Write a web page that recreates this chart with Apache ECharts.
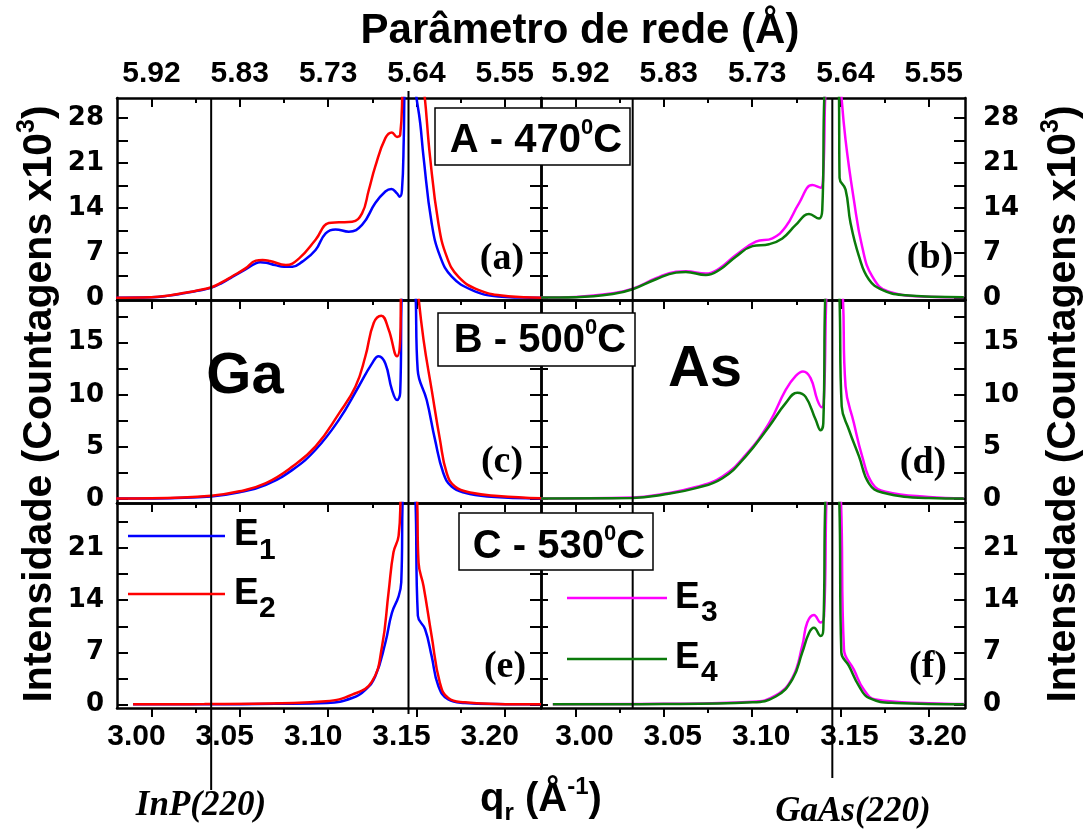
<!DOCTYPE html>
<html>
<head>
<meta charset="utf-8">
<script src="https://cdn.jsdelivr.net/npm/echarts@6/dist/echarts.min.js"></script>
<style>
  html, body { margin: 0; padding: 0; background: #ffffff; }
  #chart { width: 1086px; height: 837px; }
</style>
</head>
<body>
<div id="chart"></div>
<script>
// ---------- scattering vector q_r (Å^-1) and intensity (counts x10^3) ----------
// Row A, 470 °C
const qA_E1 = [2.980, 3.000, 3.010, 3.018, 3.026, 3.034, 3.040, 3.046, 3.053, 3.059, 3.0615, 3.065, 3.070, 3.0751, 3.0798, 3.0854, 3.0929, 3.0986, 3.1042, 3.1117, 3.1192, 3.1267, 3.1324, 3.1358, 3.1390, 3.1405, 3.1418, 3.1428, 3.1433, 3.1455, 3.1493, 3.1521, 3.1540, 3.1586, 3.1634, 3.1700, 3.1812, 3.1962, 3.2100, 3.2205];
const iA_E1 = [0.08, 0.14, 0.40, 0.76, 1.15, 1.64, 2.4, 3.35, 4.45, 5.42, 5.6, 5.5, 5.15, 4.9, 4.9, 5.69, 7.5, 10.1, 10.7, 10.35, 11.4, 14.8, 16.6, 17.0, 16.3, 15.8, 16.8, 24.6, 33, 50, 33, 27.3, 22.0, 11.7, 6.5, 3.35, 1.3, 0.25, 0.1, 0.06];
const qA_E2 = [2.980, 3.000, 3.010, 3.018, 3.026, 3.034, 3.040, 3.046, 3.053, 3.0591, 3.0629, 3.067, 3.0761, 3.0836, 3.0929, 3.1004, 3.1061, 3.1136, 3.1192, 3.1230, 3.1267, 3.1324, 3.1361, 3.1390, 3.1408, 3.1422, 3.1455, 3.1540, 3.1577, 3.1624, 3.1671, 3.1737, 3.1850, 3.2019, 3.2205];
const iA_E2 = [0.08, 0.15, 0.42, 0.80, 1.2, 1.7, 2.5, 3.45, 4.6, 5.84, 5.95, 5.8, 5.17, 6.2, 9.1, 11.7, 11.8, 11.9, 13.2, 16.8, 20.5, 24.9, 25.8, 25.1, 25.4, 33, 50, 33, 22.0, 11.7, 6.5, 3.35, 1.3, 0.3, 0.08];
const qA_E3 = [2.9806, 3.0004, 3.0211, 3.0324, 3.0456, 3.0569, 3.0625, 3.0738, 3.0814, 3.0908, 3.1021, 3.1115, 3.1190, 3.1266, 3.1341, 3.1388, 3.1403, 3.1416, 3.1454, 3.1501, 3.1529, 3.1576, 3.1623, 3.1680, 3.1774, 3.2000, 3.2198];
const iA_E3 = [0.1, 0.2, 0.76, 1.48, 3.1, 4.12, 4.2, 3.84, 4.62, 6.72, 8.8, 9.32, 11.1, 14.8, 17.6, 17.2, 19.5, 33, 50, 33, 24.6, 15.3, 8.0, 3.4, 1.0, 0.24, 0.15];
const qA_E4 = [2.9806, 3.0004, 3.0211, 3.0324, 3.0456, 3.0569, 3.0625, 3.0738, 3.0814, 3.0908, 3.1002, 3.1096, 3.1171, 3.1247, 3.1322, 3.1379, 3.1397, 3.1411, 3.1454, 3.1491, 3.1495, 3.1529, 3.1557, 3.1605, 3.1661, 3.1736, 3.1849, 3.2198];
const iA_E4 = [0.1, 0.16, 0.66, 1.39, 2.95, 3.98, 4.08, 3.6, 4.38, 6.45, 8.1, 8.4, 9.3, 11.4, 13.1, 12.4, 13.7, 33, 50, 33, 18.7, 16.9, 11.7, 6.5, 2.9, 1.3, 0.5, 0.15];

// Row B, 500 °C
const qB_E1 = [2.980, 3.000, 3.0338, 3.0498, 3.0648, 3.0798, 3.0929, 3.1061, 3.1173, 3.1248, 3.1286, 3.1324, 3.1361, 3.1390, 3.1408, 3.1418, 3.1455, 3.1493, 3.1507, 3.1558, 3.1605, 3.1652, 3.1699, 3.1774, 3.1900, 3.2205];
const iB_E1 = [0.05, 0.06, 0.25, 0.64, 1.37, 2.8, 4.73, 7.6, 10.8, 13.0, 13.7, 13.0, 10.5, 9.5, 10.2, 20.5, 30, 20.5, 12.4, 9.5, 5.7, 2.5, 1.2, 0.6, 0.25, 0.05];
const qB_E2 = [2.980, 3.000, 3.0338, 3.0498, 3.0648, 3.0798, 3.0929, 3.1061, 3.1155, 3.1211, 3.1258, 3.1301, 3.1342, 3.1390, 3.1408, 3.1414, 3.1455, 3.1505, 3.1540, 3.1586, 3.1633, 3.1671, 3.1718, 3.1812, 3.1962, 3.2205];
const iB_E2 = [0.05, 0.07, 0.32, 0.74, 1.53, 3.12, 5.05, 8.2, 10.8, 13.7, 16.9, 17.6, 16.3, 13.7, 15.3, 20.5, 30, 20.5, 15.3, 10.5, 5.7, 2.5, 1.2, 0.6, 0.3, 0.07];
const qB_E3 = [2.9806, 3.0324, 3.0493, 3.0682, 3.0832, 3.0964, 3.1096, 3.1190, 3.1247, 3.1288, 3.1331, 3.1369, 3.1394, 3.1407, 3.1422, 3.1454, 3.1510, 3.1529, 3.1576, 3.1623, 3.1680, 3.1755, 3.2000, 3.2198];
const iB_E3 = [0.05, 0.15, 0.48, 1.15, 2.17, 4.25, 7.28, 10.48, 11.82, 12.24, 11.6, 9.52, 8.8, 9.8, 20.5, 30, 20.5, 10.8, 7.3, 4.1, 1.5, 0.7, 0.2, 0.08];
const qB_E4 = [2.9806, 3.0324, 3.0493, 3.0682, 3.0832, 3.0964, 3.1096, 3.1190, 3.1256, 3.1303, 3.1360, 3.1388, 3.1403, 3.1416, 3.1454, 3.1492, 3.1507, 3.1548, 3.1605, 3.1661, 3.1736, 3.2000, 3.2198];
const iB_E4 = [0.05, 0.1, 0.41, 1.05, 2.0, 4.1, 6.97, 9.2, 10.2, 9.8, 7.6, 6.6, 7.3, 20.5, 30, 20.5, 8.9, 6.65, 4.1, 1.5, 0.63, 0.1, 0.05];

// Row C, 530 °C
const qC_E1 = [2.9896, 3.030, 3.070, 3.0995, 3.1136, 3.1211, 3.1267, 3.1324, 3.1361, 3.1399, 3.1414, 3.1423, 3.1455, 3.1493, 3.1508, 3.1549, 3.1586, 3.1624, 3.1680, 3.1774, 3.1950, 3.2205];
const iC_E1 = [0.05, 0.06, 0.12, 0.22, 0.9, 2.0, 3.8, 8.3, 12.3, 14.5, 16.4, 28.5, 45, 28.5, 11.9, 10.1, 6.5, 2.5, 0.7, 0.24, 0.08, 0.05];
const qC_E2 = [2.9896, 3.030, 3.0736, 3.0986, 3.1136, 3.1248, 3.1305, 3.1342, 3.1370, 3.1399, 3.1412, 3.1455, 3.1502, 3.1512, 3.1540, 3.1586, 3.1633, 3.1680, 3.1774, 3.1950, 3.2205];
const iC_E2 = [0.05, 0.08, 0.2, 0.45, 1.34, 3.1, 7.8, 15.0, 20.4, 22.6, 28.5, 45, 28.5, 19.0, 15.9, 9.2, 2.9, 0.9, 0.32, 0.1, 0.05];
const qC_E3 = [2.9872, 3.050, 3.1002, 3.1134, 3.1228, 3.1284, 3.1312, 3.1350, 3.1388, 3.1407, 3.1422, 3.1454, 3.1501, 3.1520, 3.1576, 3.1633, 3.1699, 3.2000, 3.2198];
const iC_E3 = [0.05, 0.12, 0.4, 1.25, 3.6, 7.9, 11.0, 12.0, 11.0, 11.8, 28.5, 45, 28.5, 7.4, 4.7, 2.0, 0.7, 0.2, 0.1];
const qC_E4 = [2.9872, 3.050, 3.1002, 3.1134, 3.1228, 3.1284, 3.1322, 3.1350, 3.1388, 3.1403, 3.1416, 3.1454, 3.1492, 3.1505, 3.1548, 3.1605, 3.1661, 3.1812, 3.2198];
const iC_E4 = [0.05, 0.09, 0.32, 1.1, 3.4, 7.0, 9.6, 10.3, 9.2, 10.1, 28.5, 45, 28.5, 7.0, 5.2, 2.5, 0.9, 0.23, 0.05];

// Reference peak positions: InP(220) and GaAs(220)
const refLeft = [3.0338, 3.1455];
const refRight = [3.0324, 3.1454];

// Axis ticks and labels
const qTicks = [3.00, 3.05, 3.10, 3.15, 3.20];
const qMinorTicks = [3.025, 3.075, 3.125, 3.175];
const qTickText = ['3.00', '3.05', '3.10', '3.15', '3.20'];
const latticeTickText = ['5.92', '5.83', '5.73', '5.64', '5.55'];
const yTicksA = [0, 3.5, 7, 10.5, 14, 17.5, 21, 24.5, 28];
const yLabelsA = [0, 7, 14, 21, 28];
const yTicksB = [0, 2.5, 5, 7.5, 10, 12.5, 15, 17.5];
const yLabelsB = [0, 5, 10, 15];
const yTicksC = [0, 3.5, 7, 10.5, 14, 17.5, 21, 24.5];
const yLabelsC = [0, 7, 14, 21];
const yMin = [-0.28, -0.38, -0.44];
const yMax = [31.15, 19.1, 27.0];
const qMin = 2.9805, qMax = 3.2205;

// ---------- layout ----------
const colLeft = [117, 541], colWidth = 424;
const rowTop = [98, 300, 503], rowHeight = [202, 203, 205];
const SANS = 'Liberation Sans, Arial, sans-serif';
const SERIF = 'Liberation Serif, Times New Roman, serif';
const TICKFONT = 'DejaVu Sans, sans-serif';
const panels = [
  [[qA_E1, iA_E1, '#0000ff'], [qA_E2, iA_E2, '#ff0000']],
  [[qA_E3, iA_E3, '#ff00ff'], [qA_E4, iA_E4, '#0b7a0b']],
  [[qB_E1, iB_E1, '#0000ff'], [qB_E2, iB_E2, '#ff0000']],
  [[qB_E3, iB_E3, '#ff00ff'], [qB_E4, iB_E4, '#0b7a0b']],
  [[qC_E1, iC_E1, '#0000ff'], [qC_E2, iC_E2, '#ff0000']],
  [[qC_E3, iC_E3, '#ff00ff'], [qC_E4, iC_E4, '#0b7a0b']]
];
const yTicks = [yTicksA, yTicksB, yTicksC];
const yLabels = [yLabelsA, yLabelsB, yLabelsC];

const tickIndex = v => Math.round((v - 3.0) / 0.05);
const lineAxis = { show: true, onZero: false, lineStyle: { color: '#000', width: 2.5 } };
const tickStyle = { color: '#000', width: 2 };

const grids = [], xAxes = [], yAxes = [], series = [];
for (let r = 0; r < 3; r++) {
  for (let c = 0; c < 2; c++) {
    const g = r * 2 + c;
    grids.push({ left: colLeft[c], top: rowTop[r], width: colWidth, height: rowHeight[r],
                 containLabel: false, outerBoundsMode: 'none' });
    const base = { type: 'value', gridIndex: g, min: qMin, max: qMax, splitLine: { show: false } };
    // bottom axis, major ticks
    xAxes.push(Object.assign({}, base, {
      position: 'bottom', axisLine: lineAxis,
      axisTick: { show: true, inside: false, length: 9, customValues: qTicks, lineStyle: tickStyle },
      axisLabel: { show: r === 2, customValues: qTicks, formatter: v => qTickText[tickIndex(v)],
                   fontFamily: SANS, fontSize: 30, fontWeight: 'bold', color: '#000', margin: 14,
                   padding: c === 0 ? [0, 30, 0, 0] : [0, 0, 0, 18] }
    }));
    // bottom axis, minor ticks
    xAxes.push(Object.assign({}, base, {
      position: 'bottom', axisLine: { show: false, onZero: false },
      axisTick: { show: true, inside: false, length: 5, customValues: qMinorTicks, lineStyle: tickStyle },
      axisLabel: { show: false }
    }));
    // top axis (lattice parameter), major ticks
    xAxes.push(Object.assign({}, base, {
      position: 'top', axisLine: lineAxis,
      axisTick: { show: true, inside: true, length: 9, customValues: qTicks, lineStyle: tickStyle },
      axisLabel: { show: r === 0, customValues: qTicks, formatter: v => latticeTickText[tickIndex(v)],
                   fontFamily: SANS, fontSize: 30, fontWeight: 'bold', color: '#000', margin: 9,
                   padding: c === 1 ? [0, 0, 0, 10] : [0, 0, 0, 0] }
    }));
    // top axis, minor ticks
    xAxes.push(Object.assign({}, base, {
      position: 'top', axisLine: { show: false, onZero: false },
      axisTick: { show: true, inside: true, length: 5, customValues: qMinorTicks, lineStyle: tickStyle },
      axisLabel: { show: false }
    }));
    const ybase = { type: 'value', gridIndex: g, min: yMin[r], max: yMax[r], splitLine: { show: false } };
    yAxes.push(Object.assign({}, ybase, {
      position: 'left', axisLine: lineAxis,
      axisTick: { show: true, inside: true, length: c === 0 ? 11 : 7, customValues: yTicks[r], lineStyle: tickStyle },
      axisLabel: { show: c === 0, customValues: yLabels[r], fontFamily: TICKFONT,
                   fontSize: 26, fontWeight: 'bold', color: '#000', margin: 13 }
    }));
    yAxes.push(Object.assign({}, ybase, {
      position: 'right', axisLine: lineAxis,
      axisTick: { show: true, inside: true, length: 11, customValues: yTicks[r], lineStyle: tickStyle },
      axisLabel: { show: c === 1, customValues: yLabels[r], fontFamily: TICKFONT,
                   fontSize: 26, fontWeight: 'bold', color: '#000', margin: 18 }
    }));
    panels[g].forEach(([qs, is, color]) => {
      series.push({
        type: 'line', xAxisIndex: 4 * g, yAxisIndex: 2 * g,
        data: qs.map((q, k) => [q, is[k]]),
        showSymbol: false, symbol: 'none', clip: true,
        smooth: 0.45,
        lineStyle: { color: color, width: 2.5 }, itemStyle: { color: color },
        z: 3
      });
    });
  }
}

const chart = echarts.init(document.getElementById('chart'), null, { renderer: 'canvas' });
chart.setOption({
  animation: false,
  backgroundColor: '#ffffff',
  grid: grids, xAxis: xAxes, yAxis: yAxes, series: series
});

// ---------- annotations ----------
const px = (axisIdx, q) => chart.convertToPixel({ xAxisIndex: axisIdx }, q);
const xInPL = px(0, refLeft[0]), xGaAsL = px(0, refLeft[1]);
const xInPR = px(4, refRight[0]), xGaAsR = px(4, refRight[1]);

function vline(x, y1, y2) {
  return { type: 'line', z: 5, shape: { x1: x, y1: y1, x2: x, y2: y2 },
           style: { stroke: '#000', lineWidth: 2 } };
}
function hline(x1, x2, y, color) {
  return { type: 'line', z: 12, shape: { x1: x1, y1: y, x2: x2, y2: y },
           style: { stroke: color, lineWidth: 2.5 } };
}
function txt(x, y, text, font, extra) {
  return { type: 'text', z: 12, x: x, y: y,
    style: Object.assign({ text: text, font: font, fill: '#000',
      align: 'center', verticalAlign: 'middle' }, extra || {}) };
}
function box(x, y, w, h) {
  return { type: 'rect', z: 10, shape: { x: x, y: y, width: w, height: h },
           style: { fill: '#ffffff', stroke: '#000', lineWidth: 1.5 } };
}
function tempText(cx, cy, prefix) {
  return { type: 'text', z: 12, x: cx, y: cy, style: {
    text: '{b|' + prefix + '}{s|0}{b|C}', align: 'center', verticalAlign: 'middle',
    rich: {
      b: { fontFamily: SANS, fontSize: 40, fontWeight: 'bold', lineHeight: 48, verticalAlign: 'middle', color: '#000' },
      s: { fontFamily: SANS, fontSize: 22, fontWeight: 'bold', lineHeight: 22, verticalAlign: 'top', color: '#000' }
    } } };
}
function yName(cx, cy) {
  return { type: 'text', z: 12, x: cx, y: cy, rotation: Math.PI / 2, style: {
    text: '{b|Intensidade (Countagens x10}{s|3}{b|)}', align: 'center', verticalAlign: 'middle',
    rich: {
      b: { fontFamily: SANS, fontSize: 41, fontWeight: 'bold', lineHeight: 50, verticalAlign: 'middle', color: '#000' },
      s: { fontFamily: SANS, fontSize: 25, fontWeight: 'bold', lineHeight: 22, verticalAlign: 'top', color: '#000' }
    } } };
}

const elements = [
  // reference lines
  vline(xInPL, 98, 790),
  vline(xGaAsL, 91, 714),
  vline(xInPR, 98, 708),
  vline(xGaAsR, 98, 778),
  // temperature boxes
  box(435, 108, 195, 57), tempText(536, 141, 'A - 470'),
  box(438, 313, 197, 53), tempText(540, 341, 'B - 500'),
  box(459, 513, 194, 57), tempText(559, 547, 'C - 530'),
  // element labels
  txt(245, 377, 'Ga', 'bold 58px ' + SANS),
  txt(705, 370, 'As', 'bold 58px ' + SANS),
  // panel letters
  txt(502, 259, '(a)', 'bold 38px ' + SERIF),
  txt(930, 258, '(b)', 'bold 38px ' + SERIF),
  txt(502, 462, '(c)', 'bold 38px ' + SERIF),
  txt(923, 463, '(d)', 'bold 38px ' + SERIF),
  txt(505, 667, '(e)', 'bold 38px ' + SERIF),
  txt(928, 667, '(f)', 'bold 38px ' + SERIF),
  // legends
  hline(128, 225, 536, '#0000ff'),
  txt(234, 535, 'E', 'bold 37px ' + SANS, { align: 'left' }),
  txt(259, 551, '1', 'bold 30px ' + SANS, { align: 'left' }),
  hline(128, 225, 594, '#ff0000'),
  txt(234, 594, 'E', 'bold 37px ' + SANS, { align: 'left' }),
  txt(259, 609, '2', 'bold 30px ' + SANS, { align: 'left' }),
  hline(567, 667, 598, '#ff00ff'),
  txt(675, 598, 'E', 'bold 37px ' + SANS, { align: 'left' }),
  txt(701, 613, '3', 'bold 30px ' + SANS, { align: 'left' }),
  hline(567, 667, 659, '#0b7a0b'),
  txt(675, 658, 'E', 'bold 37px ' + SANS, { align: 'left' }),
  txt(701, 673, '4', 'bold 30px ' + SANS, { align: 'left' }),
  // axis titles
  txt(580, 31, 'Parâmetro de rede (Å)', 'bold 42px ' + SANS),
  { type: 'text', z: 12, x: 541, y: 800, style: {
      text: '{b|q}{sub|r}{b| (Å}{sup|-1}{b|)}', align: 'center', verticalAlign: 'middle',
      rich: {
        b: { fontFamily: SANS, fontSize: 40, fontWeight: 'bold', lineHeight: 50, verticalAlign: 'middle', color: '#000' },
        sub: { fontFamily: SANS, fontSize: 24, fontWeight: 'bold', lineHeight: 20, verticalAlign: 'bottom', color: '#000' },
        sup: { fontFamily: SANS, fontSize: 24, fontWeight: 'bold', lineHeight: 20, verticalAlign: 'top', color: '#000' }
      } } },
  yName(40, 404),
  yName(1064, 404),
  // substrate peak labels
  txt(201, 806, 'InP(220)', 'italic bold 35px ' + SERIF),
  txt(853, 812, 'GaAs(220)', 'italic bold 35px ' + SERIF)
];
chart.setOption({ graphic: { elements: elements } });
</script>
</body>
</html>
